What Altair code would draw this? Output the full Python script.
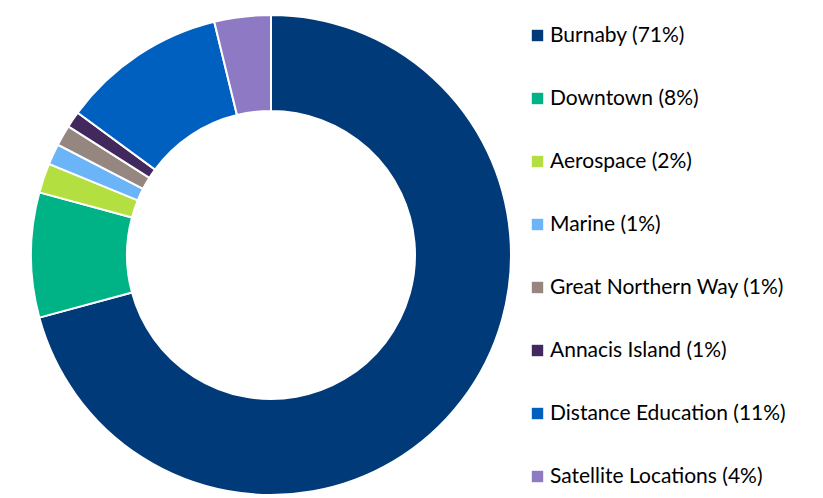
import altair as alt
import pandas as pd

campuses = ["Burnaby", "Downtown", "Aerospace", "Marine", "Great Northern Way",
            "Annacis Island", "Distance Education", "Satellite Locations"]
shares = [70.8, 8.4, 2.0, 1.4, 1.4, 1.1, 11.1, 3.8]
labels_pct = ["71%", "8%", "2%", "1%", "1%", "1%", "11%", "4%"]
colors = ["#003A78", "#00B386", "#B3E040", "#6CB4F8", "#958680", "#41295E", "#0060C0", "#8E7AC4"]

legend_labels = [f"{c} ({p})" for c, p in zip(campuses, labels_pct)]
df = pd.DataFrame({"label": legend_labels, "share": shares, "idx": list(range(len(campuses)))})

chart = alt.Chart(df).mark_arc(
    outerRadius=240, innerRadius=144, stroke="white", strokeWidth=2
).encode(
    theta=alt.Theta("share:Q", stack=True),
    order=alt.Order("idx:O"),
    color=alt.Color(
        "label:N",
        scale=alt.Scale(domain=legend_labels, range=colors),
        sort=legend_labels,
        legend=alt.Legend(
            title=None, orient="none", legendX=519, legendY=17,
            symbolType="square", symbolSize=130, symbolStrokeWidth=0,
            labelFont="Lato", labelFontSize=21, labelColor="#000000",
            labelOffset=2, rowPadding=41, labelLimit=400,
        ),
    ),
    x=alt.value(263),
    y=alt.value(247),
).properties(
    width=807, height=488, padding=0, autosize=alt.AutoSizeParams(type="none")
).configure_view(strokeWidth=0)

chart.save("out.html", embed_options={"renderer": "svg", "actions": False})
